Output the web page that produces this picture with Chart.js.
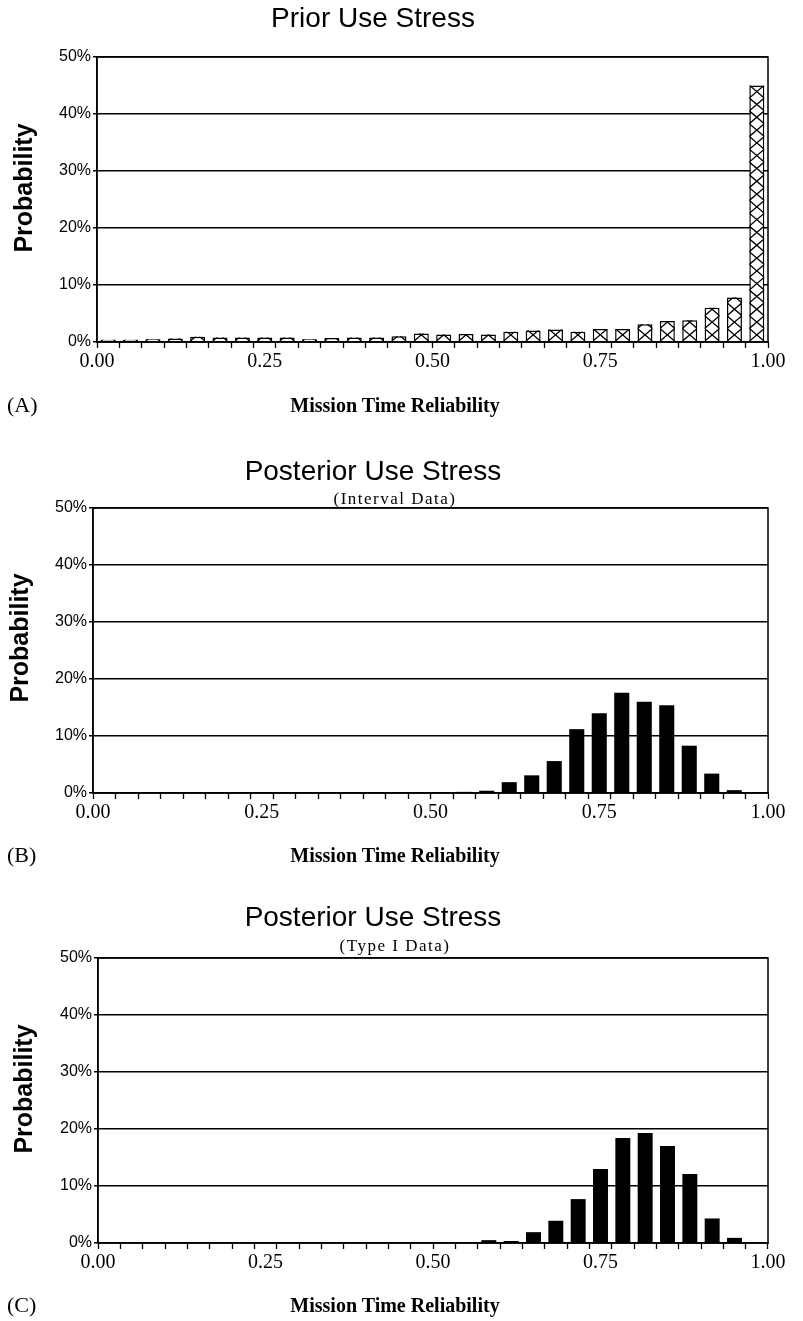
<!DOCTYPE html>
<html>
<head>
<meta charset="utf-8">
<script src="https://cdn.jsdelivr.net/npm/chart.js@4.4.1/dist/chart.umd.min.js"></script>
<style>
  body { margin: 0; width: 803px; height: 1321px; background: #fff; position: relative; overflow: hidden; }
  .panel { position: absolute; left: 0; width: 803px; height: 450px; }
  .t { position: absolute; transform: translate(-50%, -50%); white-space: nowrap; line-height: 1; color: #000; }
  .title { font: 28px 'Liberation Sans', Arial, sans-serif; }
  .sub { font: 17px 'Liberation Serif', 'Times New Roman', serif; letter-spacing: 1.5px; }
  .xtitle { font: bold 20px 'Liberation Serif', 'Times New Roman', serif; }
  .ytitle { font: bold 25px 'Liberation Sans', Arial, sans-serif; transform: translate(-50%, -50%) rotate(-90deg); }
  .letter { position: absolute; transform: translateY(-50%); line-height: 1; font: 22px 'Liberation Serif', 'Times New Roman', serif; }
</style>
</head>
<body>
<div class="panel" style="top:0px"><canvas id="chartA" width="803" height="450"></canvas></div>
<div class="panel" style="top:451px"><canvas id="chartB" width="803" height="450"></canvas></div>
<div class="panel" style="top:901px"><canvas id="chartC" width="803" height="450"></canvas></div>

<div class="t title" style="left:373px;top:18px">Prior Use Stress</div>
<div class="t ytitle" style="left:23px;top:188px">Probability</div>
<div class="letter" style="left:7px;top:405px">(A)</div>
<div class="t xtitle" style="left:395px;top:405px">Mission Time Reliability</div>

<div class="t title" style="left:373px;top:471px">Posterior Use Stress</div>
<div class="t sub" style="left:395px;top:499px">(Interval Data)</div>
<div class="t ytitle" style="left:19px;top:638px">Probability</div>
<div class="letter" style="left:7px;top:855px">(B)</div>
<div class="t xtitle" style="left:395px;top:855px">Mission Time Reliability</div>

<div class="t title" style="left:373px;top:917px">Posterior Use Stress</div>
<div class="t sub" style="left:395px;top:946px">(Type I Data)</div>
<div class="t ytitle" style="left:23px;top:1089px">Probability</div>
<div class="letter" style="left:7px;top:1305px">(C)</div>
<div class="t xtitle" style="left:395px;top:1305px">Mission Time Reliability</div>

<script>
// 30 reliability bins of width 1/30, labelled by their centre
const binCenters = ['0.017', '0.050', '0.083', '0.117', '0.150', '0.183', '0.217', '0.250', '0.283', '0.317',
                    '0.350', '0.383', '0.417', '0.450', '0.483', '0.517', '0.550', '0.583', '0.617', '0.650',
                    '0.683', '0.717', '0.750', '0.783', '0.817', '0.850', '0.883', '0.917', '0.950', '0.983'];

// probabilities in %
const priorValues = [0.4, 0.4, 0.5, 0.6, 0.9, 0.8, 0.8, 0.8, 0.8, 0.5,
                     0.7, 0.8, 0.8, 1.0, 1.5, 1.3, 1.4, 1.3, 1.8, 2.0,
                     2.2, 1.8, 2.3, 2.3, 3.1, 3.7, 3.8, 6.0, 7.8, 45.0];
const intervalValues = [0, 0, 0, 0, 0, 0, 0, 0, 0, 0,
                        0, 0, 0, 0, 0, 0, 0.2, 0.4, 1.9, 3.1,
                        5.6, 11.2, 14.0, 17.6, 16.0, 15.4, 8.3, 3.4, 0.5, 0];
const typeIValues = [0, 0, 0, 0, 0, 0, 0, 0, 0, 0,
                     0, 0, 0, 0, 0, 0, 0, 0.5, 0.35, 1.9,
                     3.9, 7.7, 13.0, 18.4, 19.3, 17.0, 12.1, 4.3, 0.9, 0];

const xTickValues = [0, 0.25, 0.5, 0.75, 1];
const xTickLabels = ['0.00', '0.25', '0.50', '0.75', '1.00'];
const yMax = 50;
const yStep = 10;

const frame = {
    id: 'frame',
    afterDraw(chart) {
        const {ctx, chartArea: a} = chart;
        ctx.save();
        ctx.strokeStyle = '#000';
        ctx.lineWidth = 1.5;
        ctx.strokeRect(a.left, a.top, a.right - a.left, a.bottom - a.top);
        ctx.restore();
    },
};

// X-shaped hatching inside each bar, like the printed prior histogram
const crossHatch = {
    id: 'crossHatch',
    afterDatasetsDraw(chart, args, opts) {
        if (!opts.enabled) return;
        const ctx = chart.ctx;
        const cell = opts.cell;
        chart.getDatasetMeta(0).data.forEach(bar => {
            const {x, y, base, width} = bar.getProps(['x', 'y', 'base', 'width'], true);
            if (base - y <= 0) return;
            const l = x - width / 2;
            const r = x + width / 2;
            ctx.save();
            ctx.beginPath();
            ctx.rect(l, y, width, base - y);
            ctx.clip();
            ctx.strokeStyle = '#000';
            ctx.lineWidth = 1.3;
            ctx.beginPath();
            for (let yy = base; yy > y - cell; yy -= cell) {
                ctx.moveTo(l, yy);
                ctx.lineTo(r, yy - cell);
                ctx.moveTo(l, yy - cell);
                ctx.lineTo(r, yy);
            }
            ctx.stroke();
            ctx.restore();
        });
    },
};

function makeChart(id, values, plotLeft, hatched) {
    return new Chart(document.getElementById(id), {
        type: 'bar',
        data: {
            labels: binCenters,
            datasets: [
                {
                    data: values,
                    backgroundColor: hatched ? '#fff' : '#000',
                    borderColor: '#000',
                    borderWidth: hatched ? 1.5 : 0,
                    barPercentage: 0.67,
                    categoryPercentage: 1.0,
                },
            ],
        },
        plugins: [frame, crossHatch],
        options: {
            responsive: false,
            animation: false,
            events: [],
            layout: {
                padding: { top: 57, right: 35, bottom: 72, left: 0 },
            },
            plugins: {
                legend: { display: false },
                tooltip: { enabled: false },
                crossHatch: { enabled: hatched, cell: 12.8 },
            },
            scales: {
                x: {
                    type: 'category',
                    offset: true,
                    grid: {
                        offset: true,
                        drawOnChartArea: false,
                        drawTicks: true,
                        tickLength: 6,
                        tickColor: '#000',
                        tickWidth: 1.3,
                    },
                    border: { display: true, color: '#000', width: 1.5 },
                    ticks: { display: false },
                },
                x2: {
                    type: 'linear',
                    position: 'bottom',
                    axis: 'x',
                    offset: false,
                    min: 0,
                    max: 1,
                    grid: { display: false, drawTicks: false, offset: false },
                    border: { display: false },
                    afterBuildTicks: scale => {
                        scale.ticks = xTickValues.map(v => ({ value: v }));
                    },
                    afterFit: scale => {
                        scale.height = 30;
                    },
                    ticks: {
                        autoSkip: false,
                        maxRotation: 0,
                        padding: 2,
                        color: '#000',
                        font: { family: "'Liberation Serif', 'Times New Roman', serif", size: 20 },
                        callback: (v, i) => xTickLabels[i],
                    },
                },
                y: {
                    min: 0,
                    max: yMax,
                    afterFit: scale => {
                        scale.width = plotLeft;
                    },
                    grid: {
                        color: '#000',
                        lineWidth: 1.5,
                        tickLength: 4,
                    },
                    border: { display: true, color: '#000', width: 1.5 },
                    ticks: {
                        stepSize: yStep,
                        padding: 2,
                        color: '#000',
                        font: { family: "'Liberation Sans', Arial, sans-serif", size: 16 },
                        callback: v => v + '%',
                    },
                },
            },
        },
    });
}

const priorChart = makeChart('chartA', priorValues, 97, true);
const intervalChart = makeChart('chartB', intervalValues, 93, false);
const typeIChart = makeChart('chartC', typeIValues, 98, false);
</script>
</body>
</html>
